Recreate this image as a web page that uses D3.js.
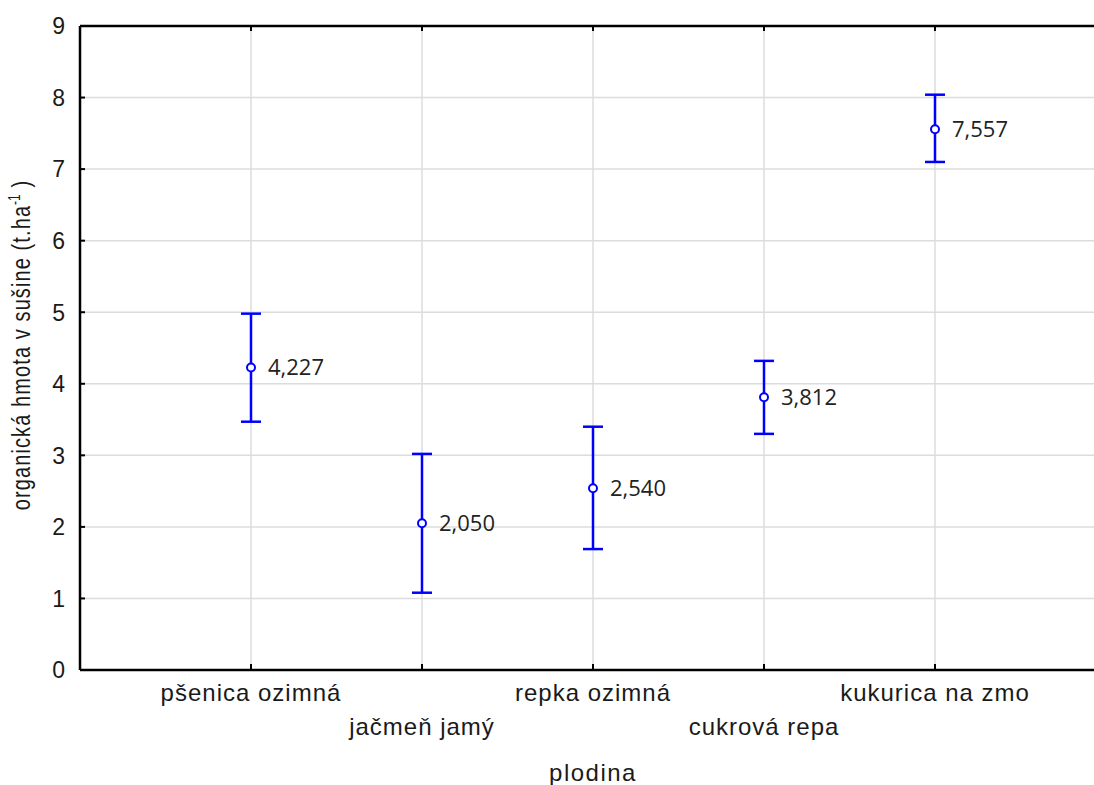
<!DOCTYPE html>
<html><head><meta charset="utf-8">
<script src="https://cdn.jsdelivr.net/npm/d3@7"></script>
<style>body{margin:0;background:#fff}svg{display:block}</style>
</head><body>
<svg id="c" width="1094" height="785"></svg>
<script>
const categories = ["pšenica ozimná","jačmeň jamý","repka ozimná","cukrová repa","kukurica na zmo"];
const means = [4.227, 2.050, 2.540, 3.812, 7.557];
const upper = [4.98, 3.02, 3.40, 4.32, 8.04];
const lower = [3.47, 1.08, 1.69, 3.30, 7.10];
const meanLabels = ["4,227","2,050","2,540","3,812","7,557"];
const yTicks = [0,1,2,3,4,5,6,7,8,9];

const svg = d3.select("#c");
const L = 80, T = 26, B = 670, R = 1106;
const x = d3.scalePoint().domain(categories).range([L, R]).padding(1);
const y = d3.scaleLinear().domain([0, 9]).range([B, T]);
const AR = "'Liberation Sans', Arial, sans-serif";

// grid
svg.append("g").selectAll("line").data(yTicks.slice(1)).join("line")
  .attr("x1", L).attr("x2", R).attr("y1", d => y(d)).attr("y2", d => y(d))
  .attr("stroke", "#dcdcdc").attr("stroke-width", 1.5);
svg.append("g").selectAll("line").data(categories).join("line")
  .attr("x1", d => x(d)).attr("x2", d => x(d)).attr("y1", T).attr("y2", B)
  .attr("stroke", "#dcdcdc").attr("stroke-width", 1.5);

// axes frame
svg.append("line").attr("x1", L).attr("x2", L).attr("y1", T).attr("y2", B).attr("stroke", "#000").attr("stroke-width", 2.5);
svg.append("line").attr("x1", L).attr("x2", R).attr("y1", B).attr("y2", B).attr("stroke", "#000").attr("stroke-width", 2.5);
svg.append("line").attr("x1", L).attr("x2", R).attr("y1", T).attr("y2", T).attr("stroke", "#000").attr("stroke-width", 2.5);

// ticks
svg.append("g").selectAll("line").data(yTicks).join("line")
  .attr("x1", L).attr("x2", L + 5).attr("y1", d => y(d)).attr("y2", d => y(d))
  .attr("stroke", "#000").attr("stroke-width", 2);
svg.append("g").selectAll("line").data(categories).join("line")
  .attr("x1", d => x(d)).attr("x2", d => x(d)).attr("y1", B).attr("y2", B - 6)
  .attr("stroke", "#000").attr("stroke-width", 2);
svg.append("g").selectAll("line").data(categories).join("line")
  .attr("x1", d => x(d)).attr("x2", d => x(d)).attr("y1", T).attr("y2", T + 5)
  .attr("stroke", "#000").attr("stroke-width", 2);

// y tick labels
svg.append("g").selectAll("text").data(yTicks).join("text")
  .attr("x", 65).attr("y", d => y(d)).attr("dy", "0.36em")
  .attr("text-anchor", "end").attr("font-family", AR)
  .attr("font-size", 23).attr("fill", "#1a1a1a").text(d => d);

// x tick labels (staggered)
svg.append("g").selectAll("text").data(categories).join("text")
  .attr("x", d => x(d)).attr("y", (d, i) => i % 2 === 0 ? 701 : 735)
  .attr("text-anchor", "middle").attr("font-family", AR)
  .attr("font-size", 24).attr("letter-spacing", 1).attr("fill", "#1a1a1a").text(d => d);

// axis titles
svg.append("text").attr("x", 593).attr("y", 781).attr("text-anchor", "middle")
  .attr("font-family", AR).attr("font-size", 24)
  .attr("letter-spacing", 1.5).attr("fill", "#1a1a1a").text("plodina");
const yt = svg.append("text").attr("transform", "translate(30,345) rotate(-90) scale(1,1.3)")
  .attr("text-anchor", "middle").attr("font-family", AR)
  .attr("font-size", 20).attr("letter-spacing", 1.1).attr("fill", "#1a1a1a");
yt.append("tspan").text("organická hmota v sušine (t.ha");
yt.append("tspan").attr("dy", -8).attr("font-size", 12).attr("letter-spacing", 0).text("-1");
yt.append("tspan").attr("dy", 8).text(" )");

// error bars
const g = svg.append("g").selectAll("g").data(categories).join("g");
g.append("line").attr("x1", d => x(d)).attr("x2", d => x(d))
  .attr("y1", (d, i) => y(upper[i])).attr("y2", (d, i) => y(lower[i]))
  .attr("stroke", "#0000ff").attr("stroke-width", 2.5);
g.append("line").attr("x1", d => x(d) - 10).attr("x2", d => x(d) + 10)
  .attr("y1", (d, i) => y(upper[i])).attr("y2", (d, i) => y(upper[i]))
  .attr("stroke", "#0000ff").attr("stroke-width", 2.5);
g.append("line").attr("x1", d => x(d) - 10).attr("x2", d => x(d) + 10)
  .attr("y1", (d, i) => y(lower[i])).attr("y2", (d, i) => y(lower[i]))
  .attr("stroke", "#0000ff").attr("stroke-width", 2.5);
g.append("circle").attr("cx", d => x(d)).attr("cy", (d, i) => y(means[i])).attr("r", 4)
  .attr("fill", "#fff").attr("stroke", "#0000ff").attr("stroke-width", 2);
g.append("text").attr("x", d => x(d) + 17).attr("y", (d, i) => y(means[i])).attr("dy", "0.36em")
  .attr("font-family", "'Open Sans', 'Noto Sans', sans-serif").attr("font-size", 22)
  .attr("fill", "#222").text((d, i) => meanLabels[i]);
</script>
</body></html>
